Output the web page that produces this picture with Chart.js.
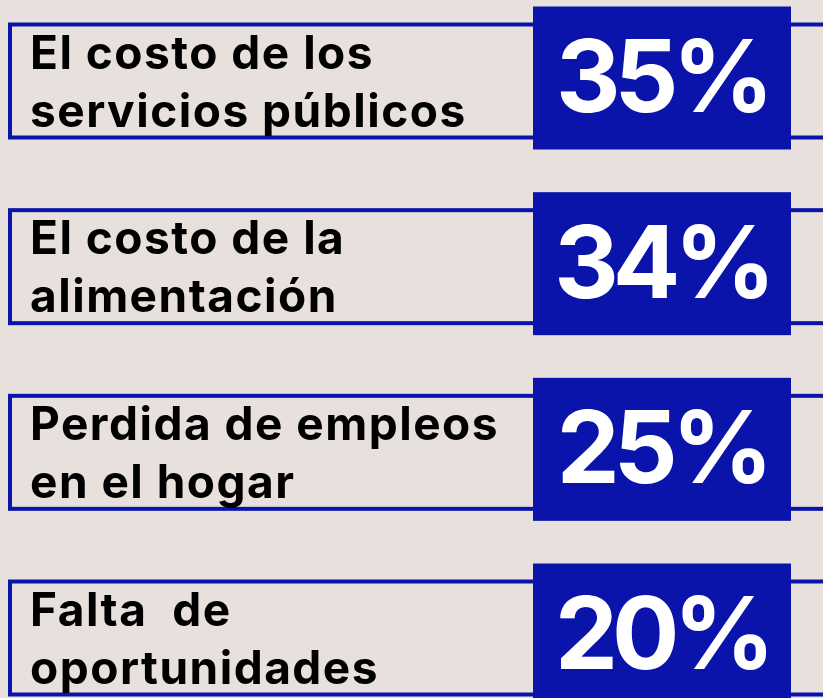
<!DOCTYPE html>
<html>
<head>
<meta charset="utf-8">
<script src="https://cdn.jsdelivr.net/npm/chart.js@4"></script>
<style>
    html, body { margin: 0; padding: 0; background: #e7e0dc; }
    #wrap { width: 823px; height: 698px; position: relative; }
</style>
</head>
<body>
<div id="wrap"><canvas id="chart"></canvas></div>
<script>
// Categories (two lines each) and percentages
const categories = [
    ['El costo de los', 'servicios públicos'],
    ['El costo de la', 'alimentación'],
    ['Perdida de empleos', 'en el hogar'],
    ['Falta  de', 'oportunidades']
];
const percentages = [35, 34, 25, 20];

const BLUE = '#0a14aa';

// Draws the outlined row, the blue value box and the texts for every bar
const rowPlugin = {
    id: 'rows',
    afterDatasetsDraw(chart) {
        const ctx = chart.ctx;
        const meta = chart.getDatasetMeta(0);
        const w = chart.width;
        ctx.save();
        meta.data.forEach((bar, i) => {
            const cy = bar.y;

            // outline
            ctx.strokeStyle = BLUE;
            ctx.lineWidth = 4;
            ctx.strokeRect(10, cy - 53.5, w + 20, 113);

            // value box
            ctx.fillStyle = BLUE;
            ctx.fillRect(533, cy - 71.5, 258, 143);

            // label
            ctx.fillStyle = '#000';
            ctx.font = '700 46px Inter, "Open Sans", sans-serif';
            ctx.letterSpacing = '1.5px';
            ctx.textAlign = 'left';
            ctx.textBaseline = 'alphabetic';
            const lines = categories[i];
            ctx.fillText(lines[0], 30, cy - 9.5);
            ctx.fillText(lines[1], 30, cy + 48.5);

            // value
            ctx.fillStyle = '#fff';
            ctx.font = '700 100px Inter, "Open Sans", sans-serif';
            ctx.letterSpacing = '-6px';
            ctx.textAlign = 'center';
            ctx.fillText(percentages[i] + '%', 662, cy + 34);
        });
        ctx.restore();
    }
};

new Chart(document.getElementById('chart'), {
    type: 'bar',
    data: {
        labels: categories,
        datasets: [{
            data: percentages,
            backgroundColor: 'rgba(0,0,0,0)',
            borderWidth: 0
        }]
    },
    options: {
        indexAxis: 'y',
        responsive: true,
        maintainAspectRatio: false,
        animation: false,
        layout: { padding: { top: 78, bottom: 63, left: 0, right: 0 } },
        scales: {
            x: { display: false, min: 0, max: 100 },
            y: { display: false, offset: false }
        },
        plugins: {
            legend: { display: false },
            tooltip: { enabled: false }
        }
    },
    plugins: [rowPlugin]
});
</script>
</body>
</html>
